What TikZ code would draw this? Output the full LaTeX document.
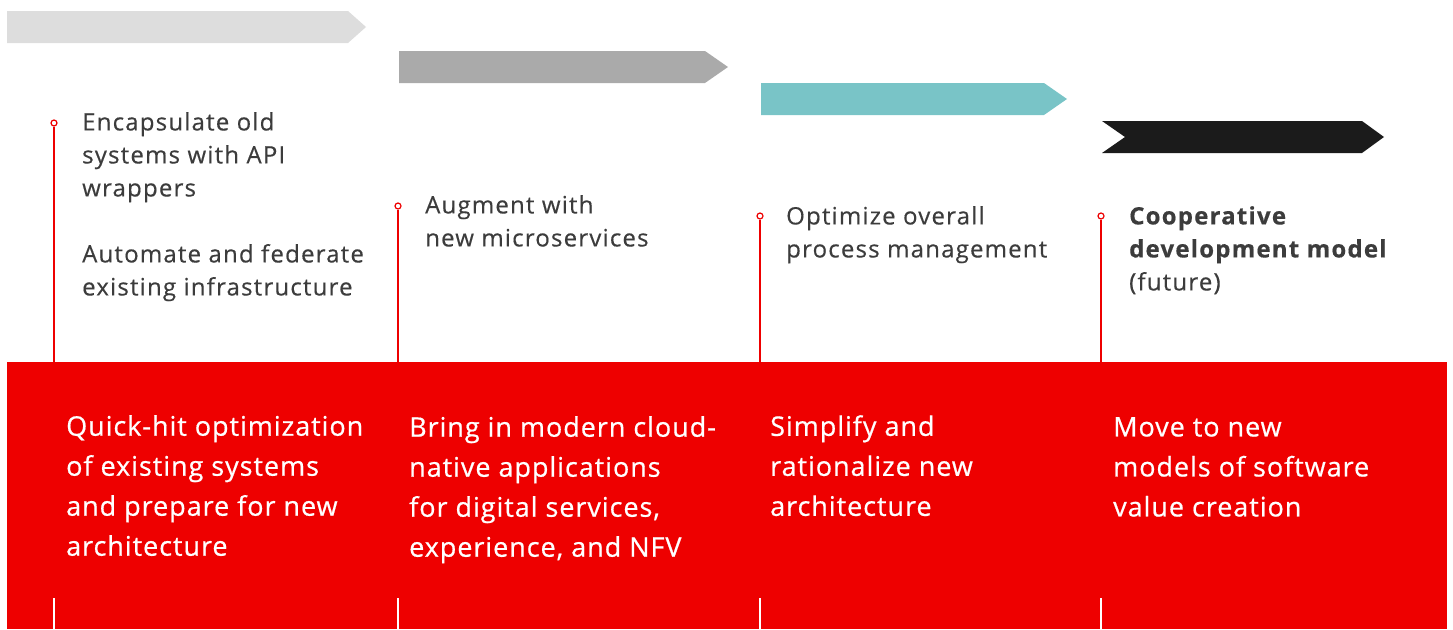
\documentclass[tikz,border=0pt]{standalone}
\usepackage{fontspec}
\setmainfont{Open Sans}
\newfontfamily\uptextfont{Open Sans}[LetterSpace=5, FakeBold=0.4]
\newfontfamily\lowtextfont{Open Sans}[LetterSpace=3.5, FakeBold=0.6]
\usetikzlibrary{positioning}

\definecolor{rhred}{HTML}{EE0000}
\definecolor{inkgray}{HTML}{3C3C3C}
\definecolor{phaseA}{HTML}{DDDDDD}
\definecolor{phaseB}{HTML}{AAAAAA}
\definecolor{phaseC}{HTML}{79C4C7}
\definecolor{phaseD}{HTML}{1B1B1B}

\begin{document}
\begin{tikzpicture}[x=1pt,y=-1pt,
  stem/.style={draw=rhred, line width=1.3pt},
  dot/.style={circle, draw=rhred, fill=white, line width=1.2pt, inner sep=0pt, minimum size=6pt},
  uptext/.style={anchor=north west, inner sep=0pt, align=left, text=inkgray, font=\uptextfont\fontsize{24}{33}\selectfont},
  lowtext/.style={anchor=north west, inner sep=0pt, align=left, text=white, font=\lowtextfont\fontsize{27}{40}\selectfont},
  band/.style={fill=rhred, anchor=north west, inner sep=0pt, minimum width=1440pt, minimum height=267pt}]
\useasboundingbox (0,0) rectangle (1453,629);

% phase arrows
\foreach \xa/\xb/\xc/\ya/\nt/\col in {7/348/366/11/0/phaseA, 399/705/728/51/0/phaseB,
    761/1044/1067/83/0/phaseC, 1102/1362/1384/121/23/phaseD}
  \fill[\col] (\xa,\ya) -- (\xb,\ya) -- (\xc,\ya+16) -- (\xb,\ya+32) -- (\xa,\ya+32) -- (\xa+\nt,\ya+16) -- cycle;

% red band
\node[band] (band) at (7,362) {};

% stems with dots
\foreach \n/\x/\y in {1/54/123, 2/398/206, 3/760/216, 4/1101/216} {
  \node[dot] (dot\n) at (\x,\y) {};
  \draw[stem] (dot\n) -- (dot\n |- band.north);
  \draw[white, line width=1.2pt] (dot\n |- band.south) -- ++(0,-31);
}

% upper texts
\node[uptext] (up1) at (82,112) {Encapsulate old\\systems with API\\wrappers\\[33pt]Automate and federate\\existing infrastructure};
\node[uptext] (up2) at (425,195) {Augment with\\new microservices};
\node[uptext] (up3) at (786,206) {Optimize overall\\process management};
\node[uptext] (up4) at (1129,206) {\textbf{Cooperative}\\\textbf{development model}\\(future)};

% texts in the band
\node[lowtext] (low1) at (66,415) {Quick-hit optimization\\of existing systems\\and prepare for new\\architecture};
\node[lowtext] (low2) at (409,416) {Bring in modern cloud-\\native applications\\for digital services,\\experience, and NFV};
\node[lowtext] (low3) at (770,415) {Simplify and\\rationalize new\\architecture};
\node[lowtext] (low4) at (1113,417) {Move to new\\models of software\\value creation};
\end{tikzpicture}
\end{document}
